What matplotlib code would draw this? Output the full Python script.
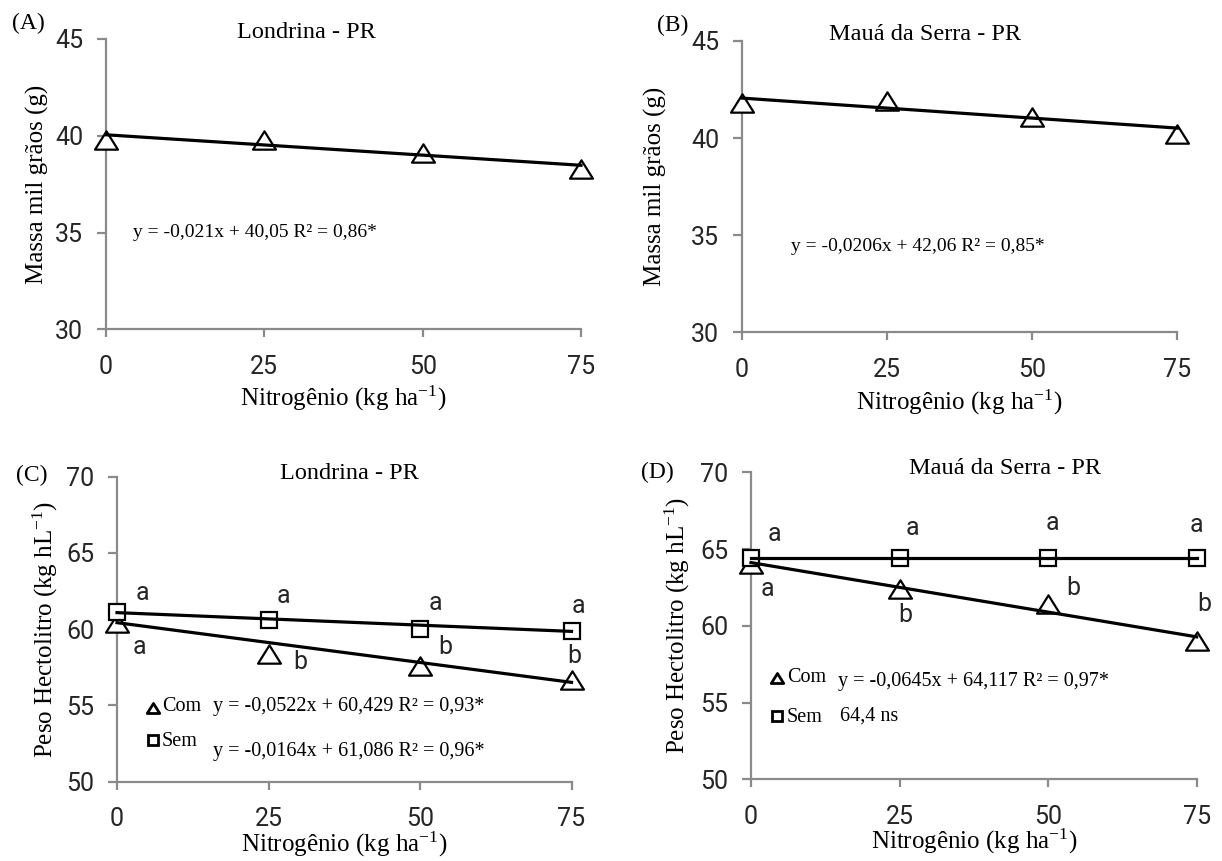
import matplotlib
matplotlib.use("Agg")
import matplotlib.pyplot as plt
import numpy as np
from matplotlib.path import Path

plt.rcParams["mathtext.fontset"] = "custom"
plt.rcParams["mathtext.rm"] = "Liberation Serif"
plt.rcParams["mathtext.it"] = "Liberation Serif:italic"

SERIF = "Liberation Serif"
SANS = "Roboto"

# ---------------- data ----------------
nitrogen = [0, 25, 50, 75]

# (A) Londrina - thousand grain mass
massa_londrina = [39.8, 39.8, 39.1, 38.3]
fit_massa_londrina = (-0.021, 40.05, 0.86)

# (B) Mauá da Serra - thousand grain mass
massa_maua = [41.8, 41.9, 41.1, 40.2]
fit_massa_maua = (-0.0206, 42.06, 0.85)

# (C) Londrina - test weight
ph_londrina_com = [60.4, 58.4, 57.6, 56.7]
ph_londrina_sem = [61.1, 60.6, 60.0, 59.9]
fit_ph_londrina_com = (-0.0522, 60.429, 0.93)
fit_ph_londrina_sem = (-0.0164, 61.086, 0.96)
letters_londrina_com = ["a", "b", "b", "b"]
letters_londrina_sem = ["a", "a", "a", "a"]

# (D) Mauá da Serra - test weight
ph_maua_com = [64.0, 62.4, 61.4, 59.0]
ph_maua_sem = [64.4, 64.4, 64.4, 64.4]
fit_ph_maua_com = (-0.0645, 64.117, 0.97)
mean_ph_maua_sem = 64.4
letters_maua_com = ["a", "b", "b", "b"]
letters_maua_sem = ["a", "a", "a", "a"]

x_ticks = [0, 25, 50, 75]
x_label = "Nitrogênio (kg ha$^{-1}$)"

# ---------------- helpers ----------------
TRI = Path([(0, 0.8), (-1, -0.8), (1, -0.8), (0, 0.8)],
           [Path.MOVETO, Path.LINETO, Path.LINETO, Path.CLOSEPOLY])
AXIS_GRAY = "#8a8a8a"
TICK_TXT = "#262626"


def num(v):
    return str(v).replace(".", ",")


def eq_text(fit):
    b, a, r2 = fit
    return f"y = {num(b)}x + {num(a)} R² = {num(r2)}*"


def style_axes(ax, ylim, yticks, ylabel, ylab_x, xlab_y):
    ax.set_xlim(0, 75)
    ax.set_ylim(*ylim)
    ax.set_xticks(x_ticks)
    ax.set_yticks(yticks)
    for s in ("top", "right"):
        ax.spines[s].set_visible(False)
    for s in ("left", "bottom"):
        ax.spines[s].set_color(AXIS_GRAY)
        ax.spines[s].set_linewidth(1.6)
    ax.tick_params(axis="y", direction="out", length=6.5, width=1.6,
                   color=AXIS_GRAY, pad=10, labelsize=18, labelcolor=TICK_TXT)
    ax.tick_params(axis="x", direction="out", length=5.8, width=1.6,
                   color=AXIS_GRAY, pad=12.5, labelsize=18, labelcolor=TICK_TXT)
    for lab in ax.get_xticklabels() + ax.get_yticklabels():
        lab.set_fontfamily(SANS)
    ax.set_ylabel(ylabel, fontfamily=SERIF, fontsize=18, va="center")
    ax.yaxis.set_label_coords(ylab_x, 0.5)
    ax.set_xlabel(x_label, fontfamily=SERIF, fontsize=18, va="center")
    ax.xaxis.set_label_coords(0.5, xlab_y)


def fit_line(ax, fit):
    b, a = fit[0], fit[1]
    xs = np.array([0, 75])
    ax.plot(xs, a + b * xs, color="black", lw=2.3, zorder=4, clip_on=False)


def tri_points(ax, y):
    ax.plot(nitrogen, y, ls="none", marker=TRI, ms=16.5, mfc="white",
            mec="black", mew=1.6, zorder=3, clip_on=False)


def sq_points(ax, y):
    ax.plot(nitrogen, y, ls="none", marker="s", ms=11, mfc="white",
            mec="black", mew=1.6, zorder=3.5, clip_on=False)


def letters(ax, labels, positions):
    for lab, (lx, ly) in zip(labels, positions):
        ax.text(lx, ly, lab, fontfamily=SANS, fontsize=18, ha="center",
                va="center", color=TICK_TXT, zorder=5)


def key(ax, kx, ky, marker, size):
    # small legend key drawn next to the "Com"/"Sem" labels
    ax.plot([kx], [ky], ls="none", marker=marker, ms=size, mfc="white",
            mec="black", mew=2.0, zorder=5, clip_on=False)


W, H = 1222, 861
fig = plt.figure(figsize=(W / 100, H / 100), dpi=100)


def px_axes(l, r, t, b):
    return fig.add_axes([l / W, 1 - b / H, (r - l) / W, (b - t) / H])


axA = px_axes(106, 581, 39, 329.3)
axB = px_axes(742, 1177.3, 41, 332.3)
axC = px_axes(117, 571.5, 476.7, 781.7)
axD = px_axes(751, 1196.7, 472.3, 779.3)

# ---- (A)
fit_line(axA, fit_massa_londrina)
tri_points(axA, massa_londrina)
style_axes(axA, (30, 45), [30, 35, 40, 45], "Massa mil grãos (g)", -0.145, -0.238)
axA.text(4.3, 35.0, eq_text(fit_massa_londrina), fontfamily=SERIF,
         fontsize=14, ha="left", va="center")

# ---- (B)
fit_line(axB, fit_massa_maua)
tri_points(axB, massa_maua)
style_axes(axB, (30, 45), [30, 35, 40, 45], "Massa mil grãos (g)", -0.198, -0.24)
axB.text(8.4, 34.4, eq_text(fit_massa_maua), fontfamily=SERIF,
         fontsize=14, ha="left", va="center")

# ---- (C)
fit_line(axC, fit_ph_londrina_com)
fit_line(axC, fit_ph_londrina_sem)
tri_points(axC, ph_londrina_com)
sq_points(axC, ph_londrina_sem)
style_axes(axC, (50, 70), [50, 55, 60, 65, 70], "Peso Hectolitro (kg hL$^{-1}$)",
           -0.158, -0.207)
letters(axC, letters_londrina_sem, [(4.2, 62.4), (27.5, 62.2), (52.6, 61.75), (76.1, 61.5)])
letters(axC, letters_londrina_com, [(3.7, 58.8), (30.3, 57.85), (54.2, 58.8), (75.4, 58.25)])
key(axC, 6.0, 54.85, TRI, 9)
axC.text(7.4, 54.9, "Com", fontfamily=SERIF, fontsize=14.5, ha="left", va="center")
axC.text(15.8, 54.9, eq_text(fit_ph_londrina_com), fontfamily=SERIF,
         fontsize=14.5, ha="left", va="center")
key(axC, 6.0, 52.75, "s", 7.5)
axC.text(7.4, 52.65, "Sem", fontfamily=SERIF, fontsize=14.5, ha="left", va="center")
axC.text(15.8, 51.95, eq_text(fit_ph_londrina_sem), fontfamily=SERIF,
         fontsize=14.5, ha="left", va="center")

# ---- (D)
fit_line(axD, fit_ph_maua_com)
fit_line(axD, (0.0, mean_ph_maua_sem, None))
tri_points(axD, ph_maua_com)
sq_points(axD, ph_maua_sem)
style_axes(axD, (50, 70), [50, 55, 60, 65, 70], "Peso Hectolitro (kg hL$^{-1}$)",
           -0.165, -0.204)
letters(axD, letters_maua_sem, [(4.0, 65.96), (27.2, 66.4), (50.8, 66.7), (75.0, 66.55)])
letters(axD, letters_maua_com, [(2.8, 62.4), (26.0, 60.7), (54.2, 62.47), (76.3, 61.4)])
key(axD, 4.45, 56.6, TRI, 9)
axD.text(6.0, 56.65, "Com", fontfamily=SERIF, fontsize=14.5, ha="left", va="center")
axD.text(14.6, 56.4, eq_text(fit_ph_maua_com), fontfamily=SERIF,
         fontsize=14.5, ha="left", va="center")
key(axD, 4.45, 54.1, "s", 7.5)
axD.text(6.0, 54.05, "Sem", fontfamily=SERIF, fontsize=14.5, ha="left", va="center")
axD.text(14.9, 54.1, f"{num(mean_ph_maua_sem)} ns", fontfamily=SERIF,
         fontsize=14.5, ha="left", va="center")

# ---- titles and panel letters
for (cx, cy, txt) in [(306.6, 33, "Londrina - PR"), (925, 35, "Mauá da Serra - PR"),
                      (349, 473, "Londrina - PR"), (1005, 468, "Mauá da Serra - PR")]:
    fig.text(cx / W, 1 - cy / H, txt, fontfamily=SERIF, fontsize=17.5,
             ha="center", va="center")
for (cx, cy, txt) in [(28, 23, "(A)"), (673, 25, "(B)"), (31.5, 475, "(C)"),
                      (657.5, 472, "(D)")]:
    fig.text(cx / W, 1 - cy / H, txt, fontfamily=SERIF, fontsize=17,
             ha="center", va="center")

fig.savefig("out.png", dpi=100)
